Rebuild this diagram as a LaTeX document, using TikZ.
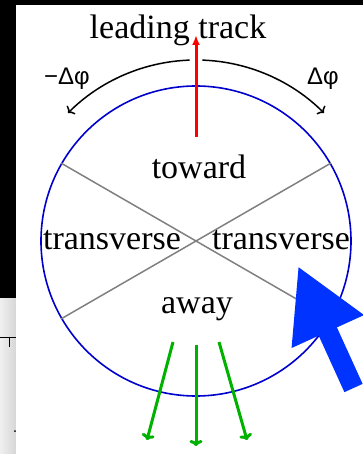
\documentclass[tikz,border=0pt]{standalone}
\usepackage{fontspec}
\setmainfont{Liberation Serif}
\newfontfamily\phifont{Liberation Sans}
\usetikzlibrary{arrows.meta}

\definecolor{ringblue}{RGB}{0,0,205}
\definecolor{jetblue}{RGB}{0,51,255}
\definecolor{awaygreen}{RGB}{0,178,0}

\begin{document}
\begin{tikzpicture}[
    x=1pt, y=1pt,
    zone/.style={
        font=\fontsize{34}{40}\selectfont,
        inner sep=0pt,
        anchor=base
    },
    dphi/.style={
        font=\phifont\fontsize{24}{28}\selectfont,
        inner sep=0pt,
        anchor=base
    },
    ringnode/.style={
        circle,
        draw=ringblue,
        line width=1.6pt,
        minimum size=310pt,
        inner sep=0pt
    },
    divider/.style={
        draw=gray,
        line width=1.5pt
    },
    swing/.style={
        -{To[length=5pt,width=12pt]},
        line width=1.5pt
    },
    track/.style={
        -{Latex[length=10pt,width=8pt]},
        line width=3pt,
        red
    },
    outflow/.style={
        -{To[length=6pt,width=13pt]},
        line width=3pt,
        awaygreen
    },
    jet/.style={
        -{Triangle[length=72pt,width=74pt]},
        line width=20pt,
        jetblue
    }
]

\useasboundingbox (-196,-213) rectangle (167,241);

% frame left over from the screen grab
\fill[black] (-196,241) rectangle (167,236);
\fill[black] (-196,241) rectangle (-180,-58);
\shade[left color=gray!12, right color=gray!32] (-196,-58) rectangle (-180,-213);
\draw[line width=1pt] (-196,-96) -- (-180,-96) (-186,-96) -- (-186,-106);
\fill (-181,-190) circle (1);

\node[ringnode] (ring) at (0,0) {};

\draw[divider] (ring.150) -- (ring.330);
\draw[divider] (ring.30) -- (ring.210);

\node[zone] (lead) at (-18,202) {leading track};
\node[dphi] (dphiL) at (-129,156) {−Δφ};
\node[dphi] (dphiR) at (127,156) {Δφ};

\node[zone] (toward) at (3,62) {toward};
\node[zone] (transL) at (-84,-9) {transverse};
\node[zone] (transR) at (85,-9) {transverse};
\node[zone] (away) at (1,-72) {away};

\draw[swing] (92:181) arc[start angle=92, end angle=135, radius=181pt];
\draw[swing] (88:181) arc[start angle=88, end angle=45, radius=181pt];

\coordinate (trk0) at (0,104);
\coordinate (trk1) at (0,206);
\draw[track] (trk0) -- (trk1);

\coordinate (out0) at (0,-104);
\coordinate (out1) at (0,-205);
\coordinate (outL0) at (-23,-101);
\coordinate (outL1) at (-49,-199);
\coordinate (outR0) at (23,-101);
\coordinate (outR1) at (51,-199);
\draw[outflow] (out0) -- (out1);
\draw[outflow] (outL0) -- (outL1);
\draw[outflow] (outR0) -- (outR1);

\coordinate (jet0) at (157.5,-147);
\coordinate (jet1) at (102,-25);
\draw[jet] (jet0) -- (jet1);

\end{tikzpicture}
\end{document}
